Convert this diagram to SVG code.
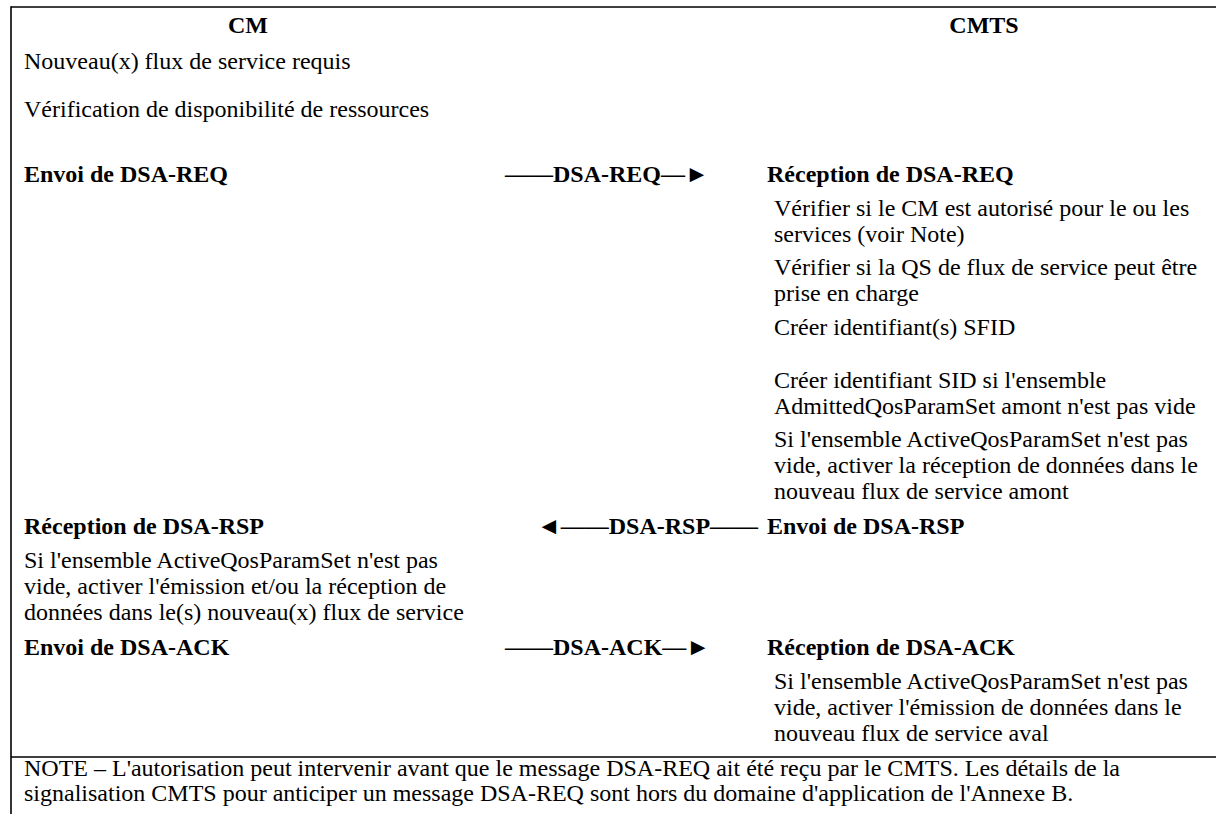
<svg xmlns="http://www.w3.org/2000/svg" width="1216" height="814" viewBox="0 0 1216 814">
  <style>
    text { font-family: "Liberation Serif", "Times New Roman", serif; font-size: 24px; fill: #000; }
    .b { font-weight: bold; }
    .hd { font-weight: bold; text-anchor: middle; }
    .rule { stroke: #000; stroke-width: 1.6; fill: none; }
  </style>
  <rect width="1216" height="814" fill="#fff"/>

  <!-- table frame: top rule, left edge and the rule above the note -->
  <g id="frame">
    <line class="rule" x1="11" y1="7" x2="1216" y2="7"/>
    <line class="rule" x1="11" y1="6.2" x2="11" y2="814"/>
    <line class="rule" x1="11" y1="757" x2="1216" y2="757"/>
  </g>

  <!-- column headings -->
  <g id="cm-heading"><text class="hd" x="248" y="33">CM</text></g>
  <g id="cmts-heading"><text class="hd" x="984" y="33">CMTS</text></g>

  <!-- CM side -->
  <g id="cm-new-flow"><text x="24" y="69">Nouveau(x) flux de service requis</text></g>
  <g id="cm-check-resources"><text x="24" y="117">Vérification de disponibilité de ressources</text></g>
  <g id="cm-send-req"><text class="b" x="24" y="182">Envoi de DSA-REQ</text></g>
  <g id="cm-recv-rsp">
    <text class="b" x="24" y="534">Réception de DSA-RSP</text>
    <text x="24" y="568">Si l'ensemble ActiveQosParamSet n'est pas</text>
    <text x="24" y="594">vide, activer l'émission et/ou la réception de</text>
    <text x="24" y="620">données dans le(s) nouveau(x) flux de service</text>
  </g>
  <g id="cm-send-ack"><text class="b" x="24" y="655">Envoi de DSA-ACK</text></g>

  <!-- CMTS side -->
  <g id="cmts-recv-req">
    <text class="b" x="767" y="182">Réception de DSA-REQ</text>
    <text x="774" y="216">Vérifier si le CM est autorisé pour le ou les</text>
    <text x="774" y="242">services (voir Note)</text>
    <text x="774" y="275">Vérifier si la QS de flux de service peut être</text>
    <text x="774" y="301">prise en charge</text>
    <text x="774" y="335">Créer identifiant(s) SFID</text>
    <text x="774" y="388">Créer identifiant SID si l'ensemble</text>
    <text x="774" y="414">AdmittedQosParamSet amont n'est pas vide</text>
    <text x="774" y="447">Si l'ensemble ActiveQosParamSet n'est pas</text>
    <text x="774" y="473">vide, activer la réception de données dans le</text>
    <text x="774" y="499">nouveau flux de service amont</text>
  </g>
  <g id="cmts-send-rsp"><text class="b" x="767" y="534">Envoi de DSA-RSP</text></g>
  <g id="cmts-recv-ack">
    <text class="b" x="767" y="655">Réception de DSA-ACK</text>
    <text x="774" y="689">Si l'ensemble ActiveQosParamSet n'est pas</text>
    <text x="774" y="715">vide, activer l'émission de données dans le</text>
    <text x="774" y="741">nouveau flux de service aval</text>
  </g>

  <!-- message exchanges between CM and CMTS -->
  <g id="connectors">
    <text class="b" x="505" y="182">——DSA-REQ—►</text>
    <text class="b" x="537" y="534">◄——DSA-RSP——</text>
    <text class="b" x="505" y="655">——DSA-ACK—►</text>
  </g>

  <!-- note row -->
  <g id="note">
    <text x="24" y="776">NOTE – L'autorisation peut intervenir avant que le message DSA-REQ ait été reçu par le CMTS. Les détails de la</text>
    <text x="24" y="801">signalisation CMTS pour anticiper un message DSA-REQ sont hors du domaine d'application de l'Annexe B.</text>
  </g>
</svg>
